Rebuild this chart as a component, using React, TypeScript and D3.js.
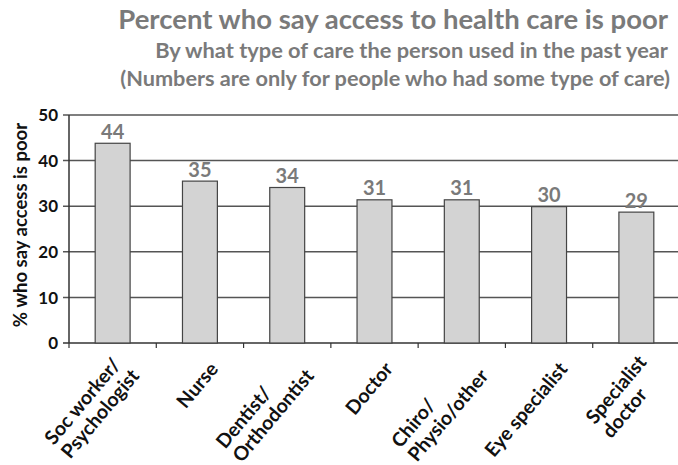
import React from "react";
import * as d3 from "d3";

const categories: string[][] = [
  ["Soc worker/", "Psychologist"],
  ["Nurse"],
  ["Dentist/", "Orthodontist"],
  ["Doctor"],
  ["Chiro/", "Physio/other"],
  ["Eye specialist"],
  ["Specialist", "doctor"],
];
const values: number[] = [43.8, 35.5, 34.1, 31.4, 31.4, 29.9, 28.7];
const labels: string[] = ["44", "35", "34", "31", "31", "30", "29"];
const yTicks: number[] = [0, 10, 20, 30, 40, 50];

const W = 678;
const H = 465;
const left = 69;
const right = 680;
const top = 115;
const bottom = 343;
const font = "Lato, 'Open Sans', sans-serif";
const catSize = 19.5;
const lineH = 21.5;
const angle = -50;

let ctx: CanvasRenderingContext2D | null = null;
function measure(t: string, size: number): number {
  if (!ctx && typeof document !== "undefined") {
    ctx = document.createElement("canvas").getContext("2d");
  }
  if (!ctx) return t.length * size * 0.55;
  ctx.font = `bold ${size}px Lato`;
  return ctx.measureText(t).width;
}

export default function App() {
  const x = d3
    .scaleBand<number>()
    .domain(categories.map((_, i) => i))
    .range([left, right])
    .paddingInner(0.6)
    .paddingOuter(0.3);
  const y = d3.scaleLinear().domain([0, 50]).range([bottom, top]);
  const step = x.step();
  const bounds = d3.range(categories.length + 1).map((i) => left + i * step);

  return (
    <svg
      width={W}
      height={H}
      style={{ position: "absolute", left: 0, top: 0, background: "#fff" }}
      fontFamily={font}
    >
      <g fontWeight="bold" fill="#7a7a7a" textAnchor="end">
        <text x={668} y={29} fontSize={27.5}>
          Percent who say access to health care is poor
        </text>
        <text x={668} y={58} fontSize={21.8}>
          By what type of care the person used in the past year
        </text>
        <text x={670} y={86} fontSize={21.7}>
          (Numbers are only for people who had some type of care)
        </text>
      </g>
      {yTicks.map((t) => (
        <g key={t}>
          <line
            x1={left - 6}
            x2={W}
            y1={y(t)}
            y2={y(t)}
            stroke={t === 0 ? "#333" : "#555"}
            strokeWidth={1.5}
          />
          <text
            x={left - 11}
            y={y(t)}
            dy="0.36em"
            textAnchor="end"
            fontSize={17}
            fontWeight="bold"
            fill="#111"
          >
            {t}
          </text>
        </g>
      ))}
      <line x1={left} x2={left} y1={top} y2={bottom} stroke="#333" strokeWidth={1.5} />
      {bounds.map((b, i) => (
        <line key={i} x1={b} x2={b} y1={bottom} y2={bottom + 5} stroke="#333" strokeWidth={1.2} />
      ))}
      {values.map((v, i) => (
        <g key={i}>
          <rect
            x={x(i)}
            y={y(v)}
            width={x.bandwidth()}
            height={bottom - y(v)}
            fill="#d3d3d3"
            stroke="#444"
            strokeWidth={1.2}
          />
          <text
            x={(x(i) as number) + x.bandwidth() / 2}
            y={y(v) - 4.5}
            textAnchor="middle"
            fontSize={20}
            fontWeight="bold"
            fill="#7a7a7a"
          >
            {labels[i]}
          </text>
        </g>
      ))}
      {categories.map((lines, i) => {
        const cx = (x(i) as number) + x.bandwidth() / 2 + 14;
        const cy = 365;
        const wMax = d3.max(lines, (l) => measure(l, catSize)) as number;
        const n = lines.length;
        return (
          <text
            key={i}
            transform={`translate(${cx},${cy}) rotate(${angle})`}
            textAnchor="start"
            fontSize={catSize}
            fontWeight="bold"
            fill="#111"
          >
            {lines.map((l, j) => (
              <tspan key={j} x={-wMax} y={(j - (n - 1) / 2) * lineH} dy="0.36em">
                {l}
              </tspan>
            ))}
          </text>
        );
      })}
      <text
        transform={`translate(20,225) rotate(-90)`}
        textAnchor="middle"
        dy="0.36em"
        fontSize={18.5}
        fontWeight="bold"
        fill="#111"
      >
        % who say access is poor
      </text>
    </svg>
  );
}
